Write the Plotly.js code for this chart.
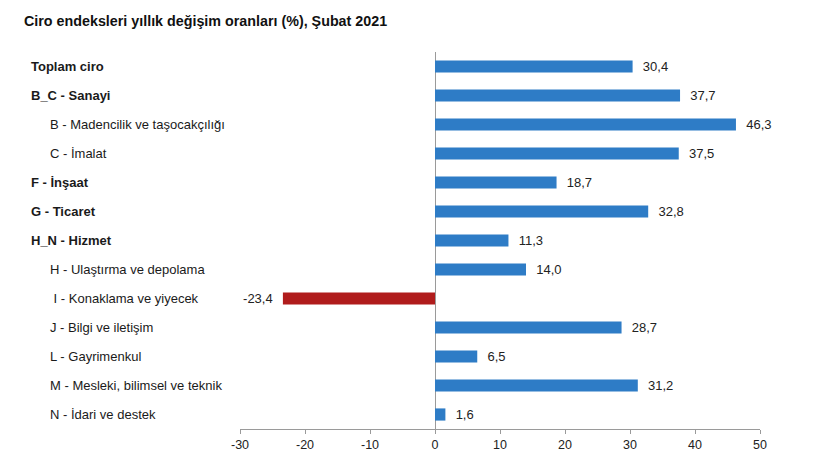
<!DOCTYPE html>
<html><head><meta charset="utf-8">
<script src="https://cdn.plot.ly/plotly-3.0.1.min.js"></script>
<style>html,body{margin:0;padding:0;background:#fff}#chart{width:815px;height:458px}</style>
</head><body><div id="chart"></div>
<script>
const categories = ["Toplam ciro","B_C - Sanayi","B - Madencilik ve taşocakçılığı","C - İmalat","F - İnşaat","G - Ticaret","H_N - Hizmet","H - Ulaştırma ve depolama","I - Konaklama ve yiyecek","J - Bilgi ve iletişim","L - Gayrimenkul","M - Mesleki, bilimsel ve teknik","N - İdari ve destek"];
const values = [30.4,37.7,46.3,37.5,18.7,32.8,11.3,14.0,-23.4,28.7,6.5,31.2,1.6];
const boldFlags = [true,true,false,false,true,true,true,false,false,false,false,false,false];
const tickValues = [-30,-20,-10,0,10,20,30,40,50];
const tickLabels = ["-30","-20","-10","0","10","20","30","40","50"];

const FONT = "'Liberation Sans Narrow','Arial Narrow','Liberation Sans',Arial,sans-serif";
const colors = values.map(v => v < 0 ? "#B01C1C" : "#2E7CC6");
const NB = "\u00A0";
const texts = values.map(v => {
  const s = v.toFixed(1).replace('.', ',');
  return v < 0 ? s + NB + NB : NB + NB + s;
});

const L = 240, W = 520;
const annotations = categories.map((c, i) => ({
  text: boldFlags[i] ? "<b>" + c + "</b>" : (c.startsWith("I -") ? NB + c : c),
  xref: "paper", x: ((boldFlags[i] ? 29 : 48) - L) / W,
  yref: "y", y: c, xanchor: "left", yanchor: "middle", showarrow: false,
  font: {family: FONT, size: 13, color: "#1a1a1a"}
}));

const trace = {
  type: "bar", orientation: "h", y: categories, x: values,
  marker: {color: colors}, width: 0.42,
  text: texts, textposition: "outside", cliponaxis: false, constraintext: "none",
  textfont: {family: FONT, size: 13, color: "#222"},
  hoverinfo: "none"
};

const layout = {
  width: 815, height: 458,
  margin: {l: L, r: 55, t: 52, b: 29},
  paper_bgcolor: "#fff", plot_bgcolor: "#fff",
  showlegend: false,
  title: {text: "<b>Ciro endeksleri yıllık değişim oranları (%), Şubat 2021</b>", x: 24/815, xanchor: "left", y: 1 - 21/458, yanchor: "middle", font: {family: FONT, size: 14.3, color: "#111"}},
  xaxis: {range: [-30, 50], tickvals: tickValues, ticktext: tickLabels, showgrid: false,
    zeroline: true, zerolinecolor: "#9a9a9a", zerolinewidth: 1,
    showline: true, linecolor: "#9a9a9a", linewidth: 1, ticks: "outside", ticklen: 4, tickcolor: "#9a9a9a",
    tickfont: {family: FONT, size: 12.5, color: "#222"}, fixedrange: true},
  yaxis: {type: "category", autorange: "reversed", showticklabels: false, showgrid: false, zeroline: false, showline: false, ticks: ""},
  annotations: annotations,
  bargap: 0.58
};
Plotly.newPlot("chart", [trace], layout, {staticPlot: true});
</script></body></html>
